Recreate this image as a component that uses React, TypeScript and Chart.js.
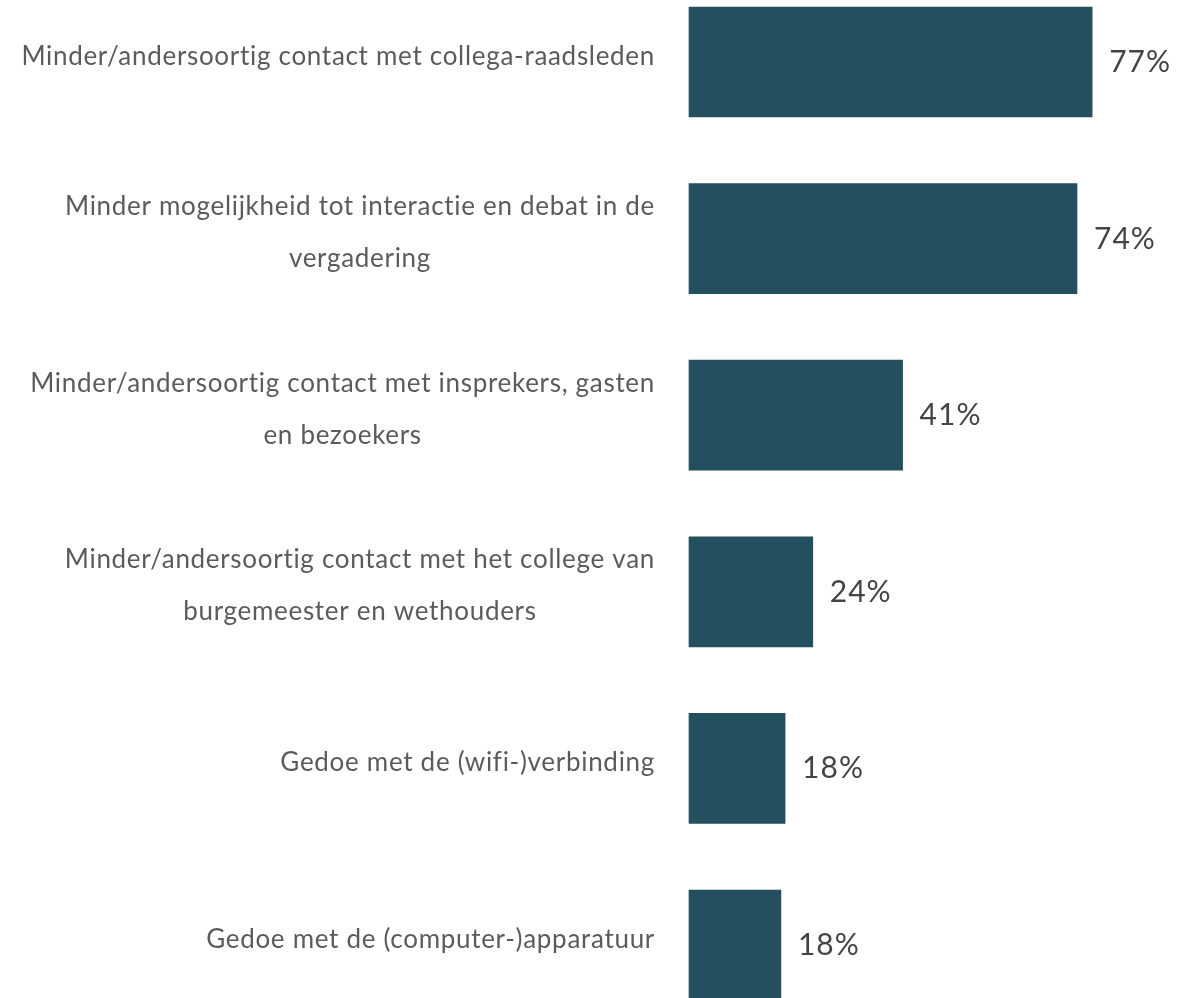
import React, { useEffect, useRef } from "react";
import { Chart, registerables } from "chart.js";

Chart.register(...registerables);

const categories: string[][] = [
  ["Minder/andersoortig contact met collega-raadsleden"],
  ["Minder mogelijkheid tot interactie en debat in de", "vergadering"],
  ["Minder/andersoortig contact met insprekers, gasten", "en bezoekers"],
  ["Minder/andersoortig contact met het college van", "burgemeester en wethouders"],
  ["Gedoe met de (wifi-)verbinding"],
  ["Gedoe met de (computer-)apparatuur"],
];

const values: number[] = [77.2, 74.3, 40.9, 23.7, 18.4, 17.6];
const valueLabels: string[] = ["77%", "74%", "41%", "24%", "18%", "18%"];

const BAR_COLOR = "#234f5e";
const CAT_COLOR = "#5b5b5b";
const VAL_COLOR = "#444444";
const FONT = "Lato, 'Noto Sans', sans-serif";

const labelPlugin = {
  id: "customLabels",
  afterDatasetsDraw(chart: any) {
    const ctx = chart.ctx as any;
    const yScale = chart.scales.y;
    const meta = chart.getDatasetMeta(0);
    ctx.save();
    // category labels (right-aligned block, lines centered within block)
    ctx.font = `26px ${FONT}`;
    ctx.letterSpacing = "0.7px";
    ctx.fillStyle = CAT_COLOR;
    ctx.textBaseline = "alphabetic";
    ctx.textAlign = "center";
    const right = chart.chartArea.left - 34;
    categories.forEach((lines, i) => {
      const cy = yScale.getPixelForValue(i);
      const maxW = Math.max(...lines.map((l) => ctx.measureText(l).width));
      const cx = right - maxW / 2;
      const n = lines.length;
      lines.forEach((l, j) => {
        ctx.fillText(l, cx, cy + 2.5 + (j - (n - 1) / 2) * 52);
      });
    });
    // value labels
    ctx.font = `30px ${FONT}`;
    ctx.letterSpacing = "1px";
    ctx.fillStyle = VAL_COLOR;
    ctx.textAlign = "left";
    meta.data.forEach((bar: any, i: number) => {
      ctx.fillText(valueLabels[i], bar.x + 17, bar.y + 10);
    });
    ctx.restore();
  },
};

export default function App() {
  const canvasRef = useRef<HTMLCanvasElement | null>(null);

  useEffect(() => {
    document.body.style.margin = "0";
    document.body.style.overflow = "hidden";
    const canvas = canvasRef.current;
    if (!canvas) return;
    const chart = new Chart(canvas, {
      type: "bar",
      data: {
        labels: categories.map((c) => c.join(" ")),
        datasets: [
          {
            data: values,
            backgroundColor: BAR_COLOR,
            borderWidth: 0,
            barThickness: 110,
            clip: false as any,
          },
        ],
      },
      options: {
        indexAxis: "y",
        animation: false,
        responsive: true,
        maintainAspectRatio: false,
        layout: { padding: { left: 689, right: 37, top: 62, bottom: 53 } },
        plugins: {
          legend: { display: false },
          tooltip: { enabled: false },
        },
        scales: {
          x: { display: false, min: 0, max: 90 },
          y: { display: false, offset: false },
        },
      },
      plugins: [labelPlugin],
    });
    return () => chart.destroy();
  }, []);

  return (
    <div style={{ position: "relative", width: "1196px", height: "998px" }}>
      <canvas ref={canvasRef} />
    </div>
  );
}
